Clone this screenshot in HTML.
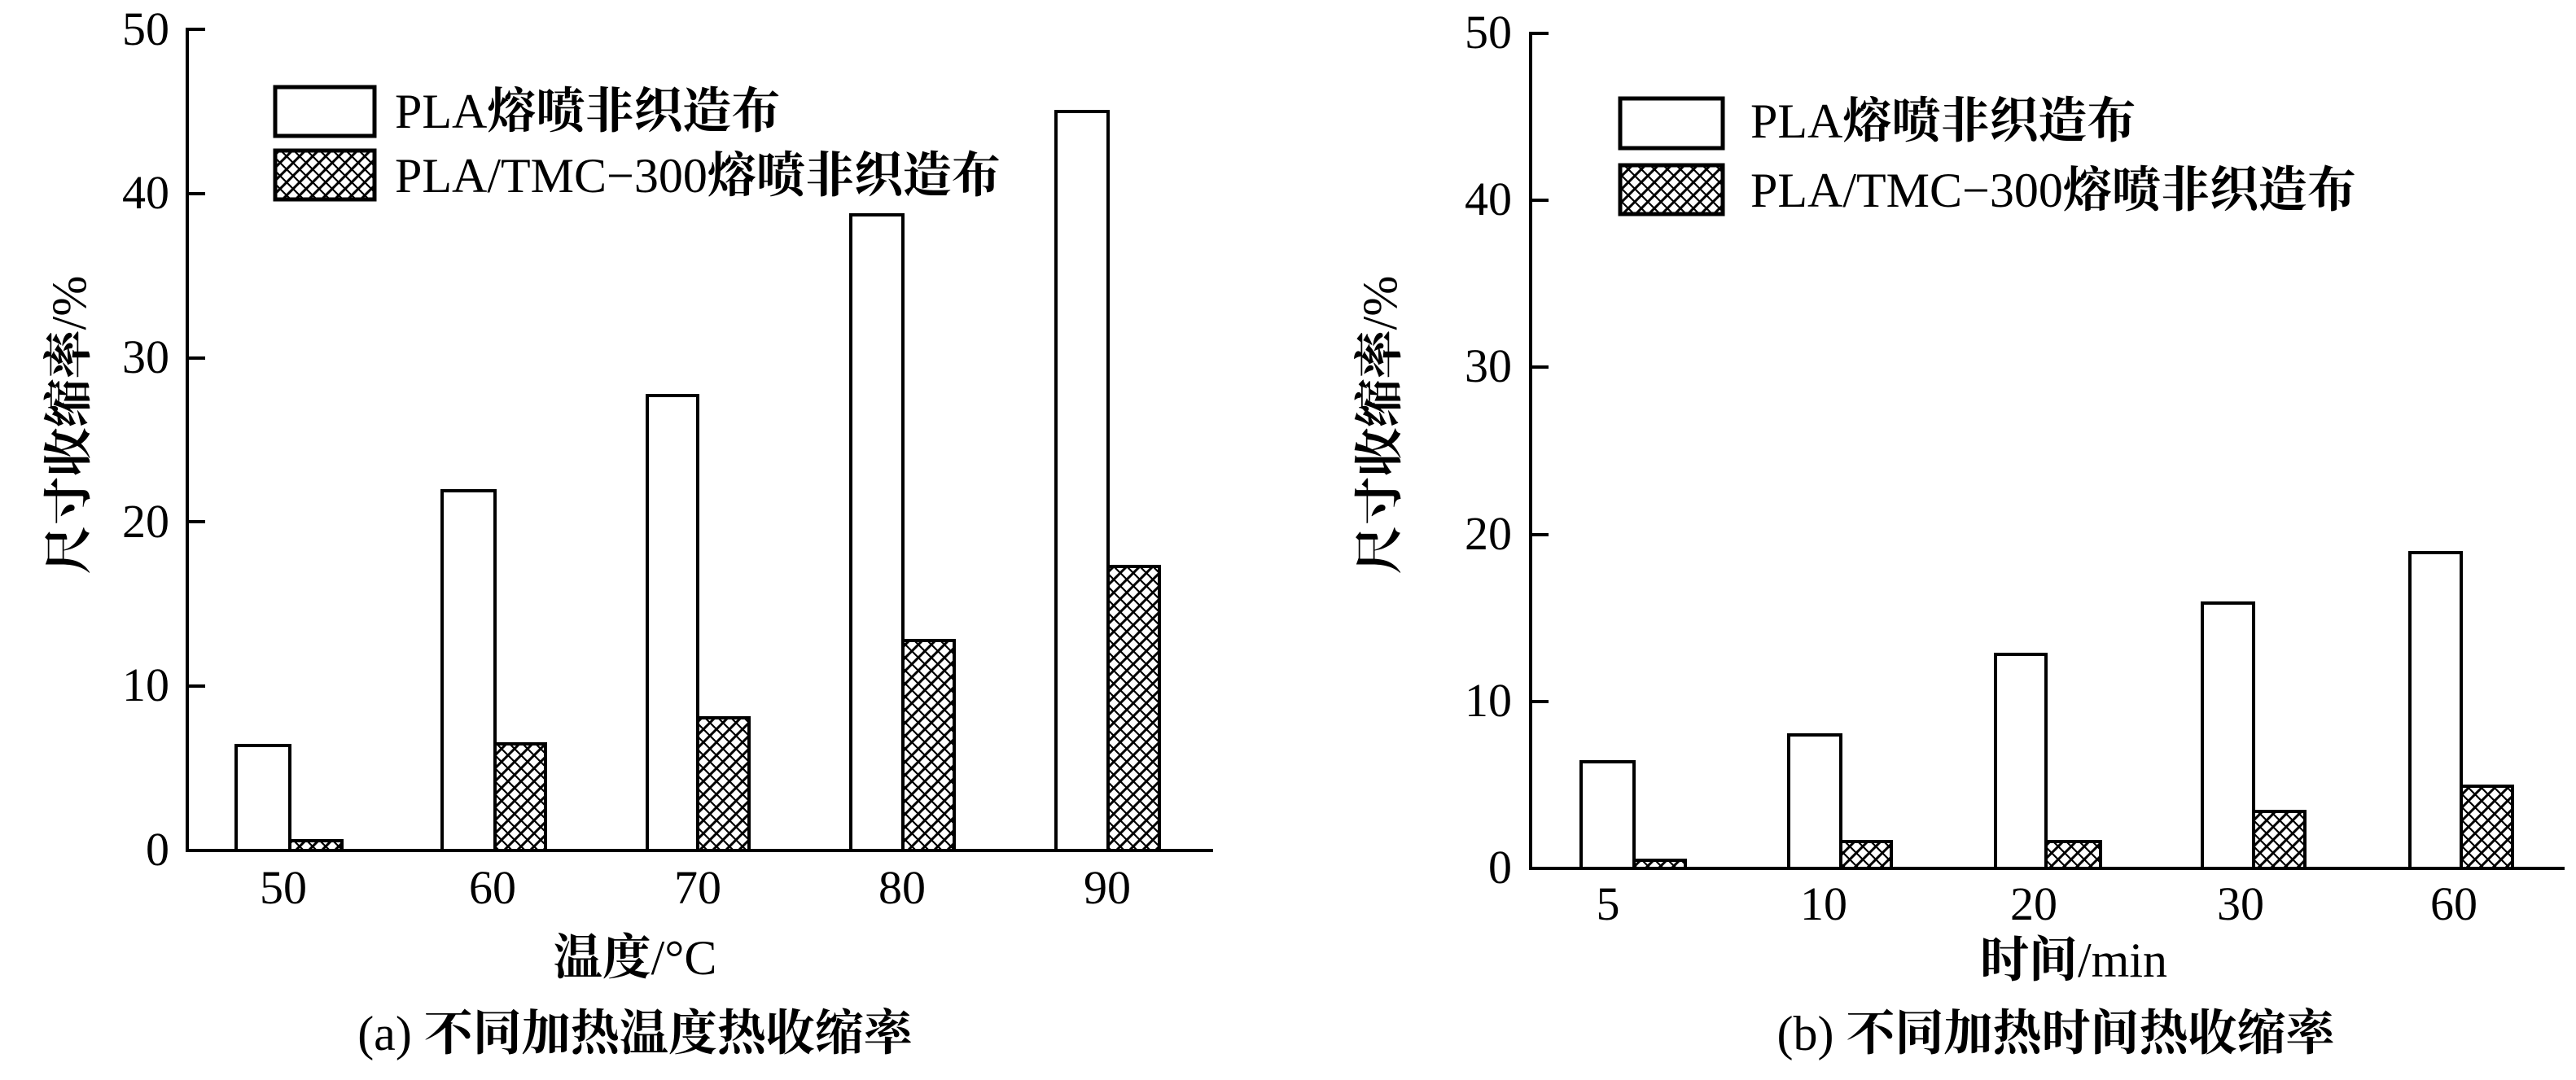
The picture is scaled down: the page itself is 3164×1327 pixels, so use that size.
<!DOCTYPE html>
<html><head><meta charset="utf-8"><style>
html,body{margin:0;padding:0;background:#fff;}
svg{display:block;}
text{font-family:"Liberation Serif","Noto Serif CJK SC","Noto Sans CJK SC",serif;fill:#000;}
.c{font-family:"Noto Serif CJK SC","Noto Sans CJK SC",serif;font-weight:bold;}
</style></head><body>
<svg width="3164" height="1327" viewBox="0 0 3164 1327" xmlns="http://www.w3.org/2000/svg">
<defs>
<pattern id="h" patternUnits="userSpaceOnUse" width="16" height="16">
<rect width="16" height="16" fill="#fff"/>
<path d="M-4,4 L4,-4 M0,16 L16,0 M12,20 L20,12" stroke="#000" stroke-width="3"/>
<path d="M-4,12 L4,20 M0,0 L16,16 M12,-4 L20,4" stroke="#000" stroke-width="2.2"/>
</pattern>
</defs>
<g stroke="#000" stroke-width="4" fill="none">
<line x1="230" y1="34" x2="230" y2="1047"/>
<line x1="228" y1="1045" x2="1490" y2="1045"/>
<line x1="230" y1="36" x2="252" y2="36"/>
<line x1="230" y1="238" x2="252" y2="238"/>
<line x1="230" y1="440" x2="252" y2="440"/>
<line x1="230" y1="641" x2="252" y2="641"/>
<line x1="230" y1="843" x2="252" y2="843"/>
<line x1="1880" y1="39" x2="1880" y2="1069"/>
<line x1="1878" y1="1067" x2="3150" y2="1067"/>
<line x1="1880" y1="41" x2="1902" y2="41"/>
<line x1="1880" y1="246" x2="1902" y2="246"/>
<line x1="1880" y1="451" x2="1902" y2="451"/>
<line x1="1880" y1="657" x2="1902" y2="657"/>
<line x1="1880" y1="862" x2="1902" y2="862"/>
</g>
<g stroke="#000" stroke-width="4">
<rect x="290" y="916" width="66" height="129" fill="#fff"/>
<rect x="356" y="1033" width="64" height="12" fill="url(#h)"/>
<rect x="543" y="603" width="65" height="442" fill="#fff"/>
<rect x="608" y="914" width="62" height="131" fill="url(#h)"/>
<rect x="795" y="486" width="62" height="559" fill="#fff"/>
<rect x="857" y="882" width="63" height="163" fill="url(#h)"/>
<rect x="1045" y="264" width="64" height="781" fill="#fff"/>
<rect x="1109" y="787" width="63" height="258" fill="url(#h)"/>
<rect x="1297" y="137" width="64" height="908" fill="#fff"/>
<rect x="1361" y="696" width="63" height="349" fill="url(#h)"/>
<rect x="1942" y="936" width="65" height="131" fill="#fff"/>
<rect x="2007" y="1057" width="63" height="10" fill="url(#h)"/>
<rect x="2197" y="903" width="64" height="164" fill="#fff"/>
<rect x="2261" y="1034" width="62" height="33" fill="url(#h)"/>
<rect x="2451" y="804" width="62" height="263" fill="#fff"/>
<rect x="2513" y="1034" width="67" height="33" fill="url(#h)"/>
<rect x="2705" y="741" width="63" height="326" fill="#fff"/>
<rect x="2768" y="997" width="63" height="70" fill="url(#h)"/>
<rect x="2960" y="679" width="63" height="388" fill="#fff"/>
<rect x="3023" y="966" width="63" height="101" fill="url(#h)"/>
<rect x="338" y="107" width="122" height="60" fill="#fff" stroke-width="5"/>
<rect x="338" y="185" width="122" height="60" fill="url(#h)" stroke-width="5"/>
<rect x="1990" y="121" width="126" height="61" fill="#fff" stroke-width="5"/>
<rect x="1990" y="203" width="126" height="60" fill="url(#h)" stroke-width="5"/>
</g>
<g font-size="60">
<text x="485" y="157">PLA<tspan class="c">熔喷非织造布</tspan></text>
<text x="485" y="236">PLA/TMC−300<tspan class="c">熔喷非织造布</tspan></text>
<text x="2150" y="169">PLA<tspan class="c">熔喷非织造布</tspan></text>
<text x="2150" y="254">PLA/TMC−300<tspan class="c">熔喷非织造布</tspan></text>
</g>
<g font-size="58" text-anchor="end">
<text x="208" y="1063">0</text>
<text x="208" y="861">10</text>
<text x="208" y="660">20</text>
<text x="208" y="458">30</text>
<text x="208" y="256">40</text>
<text x="208" y="55">50</text>
<text x="1857" y="1085">0</text>
<text x="1857" y="880">10</text>
<text x="1857" y="675">20</text>
<text x="1857" y="469">30</text>
<text x="1857" y="264">40</text>
<text x="1857" y="59">50</text>
</g>
<g font-size="58" text-anchor="middle">
<text x="348" y="1110">50</text>
<text x="605" y="1110">60</text>
<text x="857" y="1110">70</text>
<text x="1108" y="1110">80</text>
<text x="1360" y="1110">90</text>
<text x="1975" y="1130">5</text>
<text x="2240" y="1130">10</text>
<text x="2498" y="1130">20</text>
<text x="2752" y="1130">30</text>
<text x="3014" y="1130">60</text>
</g>
<g font-size="60" text-anchor="middle">
<text x="780" y="1197"><tspan class="c">温度</tspan>/°C</text>
<text x="2547" y="1200"><tspan class="c">时间</tspan>/min</text>
<text x="780" y="1290">(a) <tspan class="c">不同加热温度热收缩率</tspan></text>
<text x="2525" y="1290">(b) <tspan class="c">不同加热时间热收缩率</tspan></text>
<text transform="translate(105,522) rotate(-90)"><tspan class="c">尺寸收缩率</tspan>/%</text>
<text transform="translate(1715,522) rotate(-90)"><tspan class="c">尺寸收缩率</tspan>/%</text>
</g>
</svg>
</body></html>
